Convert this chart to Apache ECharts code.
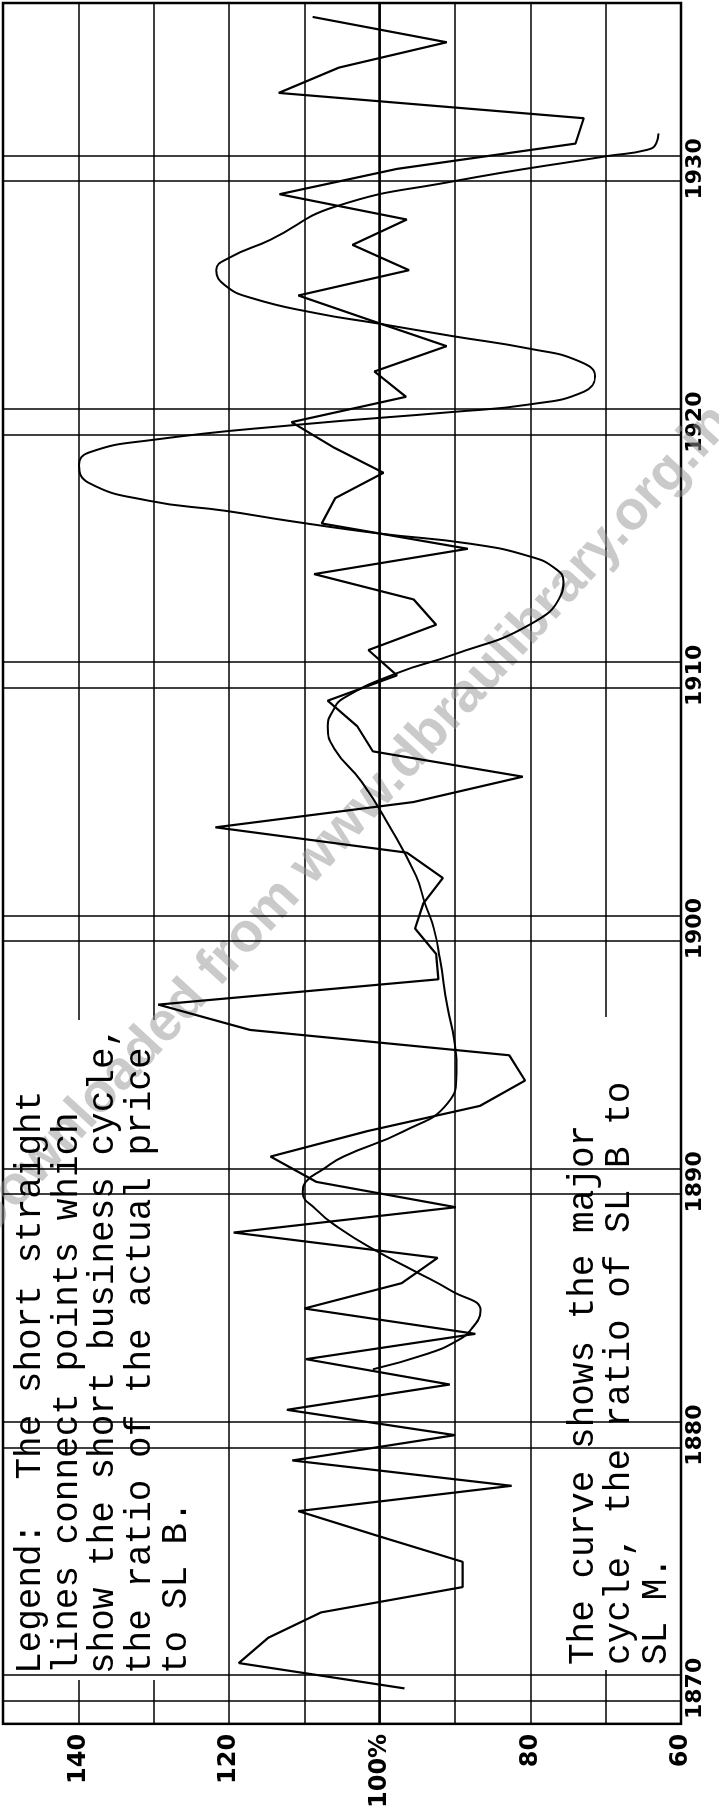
<!DOCTYPE html>
<html>
<head>
<meta charset="utf-8">
<script src="https://cdn.jsdelivr.net/npm/echarts@6/dist/echarts.min.js"></script>
<style>
html,body{margin:0;padding:0;background:#fff;width:719px;height:1811px;overflow:hidden;}
#wrap{position:absolute;left:-546px;top:546px;width:1811px;height:719px;transform:rotate(-90deg);transform-origin:50% 50%;}
#chart{width:1811px;height:719px;}
</style>
</head>
<body>
<div id="wrap"><div id="chart"></div></div>
<script>
// ---- data ----
const shortYears = [1870,1871,1872,1873,1874,1875,1876,1877,1878,1879,
  1880,1881,1882,1883,1884,1885,1886,1887,1888,1889,
  1890,1891,1892,1893,1894,1895,1896,1897,1898,1899,
  1900,1901,1902,1903,1904,1905,1906,1907,1908,1909,
  1910,1911,1912,1913,1914,1915,1916,1917,1918,1919,
  1920,1921,1922,1923,1924,1925,1926,1927,1928,1929,
  1930,1931,1932,1933,1934,1935,1936];
const shortValues = [96.7,118.7,114.8,107.8,89.0,89.0,100.0,110.8,82.5,111.6,
  90.0,112.3,90.7,109.8,87.3,110.0,97.1,92.3,119.4,89.9,
  108.4,114.5,101.7,86.7,80.7,82.8,117.2,129.4,92.2,92.5,
  95.3,94.2,91.6,96.4,121.8,95.5,81.0,100.9,103.0,106.9,
  97.7,101.5,92.5,95.5,108.7,88.3,107.7,105.9,99.5,106.1,
  111.7,96.5,100.7,91.1,101.0,110.8,96.1,103.6,96.4,113.3,
  97.7,74.0,72.9,113.4,105.4,91.1,108.9];

const curveYears = [1882.6,1883.2,1883.7,1884.2,1884.9,1885.7,1886.5,1887.3,1888.2,1888.9,
  1889.6,1890.0,1890.5,1891.0,1892.0,1893.1,1894.3,1895.6,1896.9,1898.8,
  1900.0,1901.0,1902.1,1904.1,1905.8,1907.1,1908.0,1908.6,1909.1,1910.1,
  1910.8,1912.0,1913.2,1913.7,1914.2,1914.7,1915.2,1915.6,1916.1,1916.5,
  1916.9,1917.6,1918.3,1918.8,1919.3,1919.9,1920.4,1920.7,1921.2,1921.8,
  1922.4,1922.9,1923.4,1923.9,1924.3,1924.9,1925.4,1926.0,1926.5,1927.2,
  1928.5,1929.5,1930.5,1930.75,1931.0,1931.4];
const curveValues = [100.9,93.8,89.9,87.8,86.6,90.5,95.5,100.6,105.5,108.4,
  110.2,109.8,107.5,104.8,96.8,91.0,89.8,90.1,91.0,92.0,
  92.8,94.0,95.2,98.8,102.4,106.0,106.9,106.2,104.8,97.6,
  90.4,80.1,75.9,75.6,76.6,80.1,88.0,100.0,112.0,120.5,
  130.7,138.6,139.9,138.6,130.1,110.8,90.4,80.1,72.9,71.4,
  73.5,80.1,90.4,100.3,108.4,117.0,120.5,121.7,119.9,114.5,
  106.0,90.4,69.9,64.5,63.3,63.0];

const decadeYears = [1870,1880,1890,1900,1910,1920,1930];
const valueTicks = [60,80,100,120,140];

const legendLines = [
  "Legend:  The short straight",
  "lines connect points which",
  "show the short business cycle,",
  "the ratio of the actual price",
  "to SL B."
];
const noteLines = [
  "The curve shows the major",
  "cycle, the ratio of SL B to",
  "SL M."
];
const watermarkText = "Downloaded from www.dbraulibrary.org.in";

// ---- build chart ----
const shortData = shortYears.map((y, i) => [y, shortValues[i]]);
const curveData = curveYears.map((y, i) => [y, curveValues[i]]);

const decadeMarks = [];
decadeYears.forEach(d => { decadeMarks.push({xAxis: d - 0.5}); decadeMarks.push({xAxis: d + 0.5}); });
decadeMarks.push({yAxis: 100, lineStyle: {width: 2.6}});

const typeFont = '36px "Liberation Mono", "Courier New", monospace';
const graphics = [];
graphics.push({type:'rect', z: 2, silent: true, shape:{x:131, y:8, width:660, height:174}, style:{fill:'#fff'}});
graphics.push({type:'rect', z: 2, silent: true, shape:{x:141, y:553, width:653, height:112}, style:{fill:'#fff'}});
graphics.push({type:'text', z: 3, silent: true, x: 989, y: 350, rotation: -0.74,
  style:{text: watermarkText, font: 'bold 55px "Liberation Sans", Arial, sans-serif',
    fill: 'rgba(150,150,150,0.5)', align:'center', verticalAlign:'middle',
    shadowBlur: 6, shadowColor: 'rgba(120,120,120,0.7)'}});
legendLines.forEach((t, i) => {
  graphics.push({type:'text', z: 5, silent: true, x: 137, y: 30.5 + i * 36.5,
    style:{text: t, font: typeFont, fill:'#000', align:'left', verticalAlign:'middle'}});
});
noteLines.forEach((t, i) => {
  graphics.push({type:'text', z: 5, silent: true, x: 146, y: 583 + i * 36.5,
    style:{text: t, font: typeFont, fill:'#000', align:'left', verticalAlign:'middle'}});
});

const chart = echarts.init(document.getElementById('chart'), null, {renderer:'canvas'});
chart.setOption({
  animation: false,
  backgroundColor: '#fff',
  grid: {left: 76, right: 3, top: 3, bottom: 38, show: true, borderColor: '#000', borderWidth: 2.5, backgroundColor: 'transparent'},
  xAxis: {
    type: 'value', min: 1868.6, max: 1936.55,
    axisLine: {show: false}, axisTick: {show: false}, splitLine: {show: false},
    axisLabel: {customValues: decadeYears, color: '#000', fontSize: 22, fontWeight: 'bold',
      fontFamily: '"DejaVu Sans", sans-serif', margin: 3, formatter: v => String(v)}
  },
  yAxis: {
    type: 'value', min: 60, max: 150, interval: 10,
    axisLine: {show: false}, axisTick: {show: false},
    splitLine: {show: true, lineStyle: {color: '#000', width: 1.5}},
    axisLabel: {customValues: valueTicks, color: '#000', fontSize: 24, fontWeight: 'bold',
      fontFamily: '"DejaVu Sans", sans-serif', margin: 10,
      formatter: v => (v === 100 ? '100%' : String(v))}
  },
  graphic: graphics,
  series: [
    {type: 'line', name: 'decades', data: [], z: 1, silent: true,
      markLine: {symbol: 'none', silent: true, label: {show: false}, animation: false,
        lineStyle: {color: '#000', width: 1.5, type: 'solid'}, data: decadeMarks}},
    {type: 'line', name: 'short cycle', data: shortData, z: 4, symbol: 'none', silent: true,
      lineStyle: {color: '#000', width: 2.2}},
    {type: 'line', name: 'major cycle', data: curveData, z: 4, symbol: 'none', silent: true,
      smooth: 0.5, lineStyle: {color: '#000', width: 2}}
  ]
});
</script>
</body>
</html>
